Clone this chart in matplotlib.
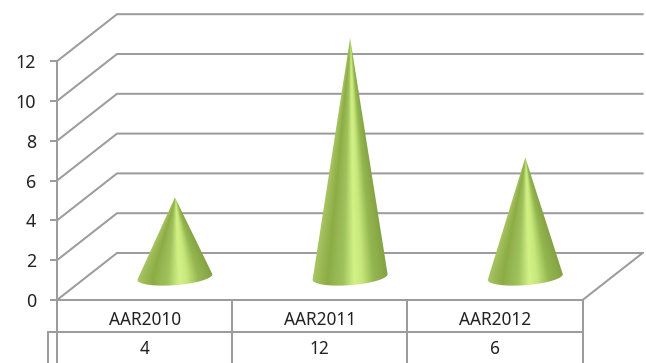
import numpy as np
import matplotlib
matplotlib.use("Agg")
import matplotlib.pyplot as plt
from matplotlib.patches import PathPatch
from matplotlib.path import Path

categories = ["AAR2010", "AAR2011", "AAR2012"]
values = [4, 12, 6]
value_ticks = [0, 2, 4, 6, 8, 10, 12]

plt.rcParams["font.family"] = ["Noto Sans", "DejaVu Sans"]
TEXT = "#222222"
LINE = "#9c9c9c"
LW = 1.45

# Axes fill the canvas: x is in category units, y in value units on the front plane.
UX, UY = 175.2, 19.9
X0, Y0 = 57.0, 300.0
W, H = 646, 363
fig = plt.figure(figsize=(W / 100, H / 100), dpi=100)
ax = fig.add_axes([0, 0, 1, 1])
ax.set_xlim(-X0 / UX, (W - X0) / UX)
ax.set_ylim((Y0 - H) / UY, Y0 / UY)

# Oblique depth of the 3D box, in data units.
DX, DY = 60 / UX, 47 / UY
n = len(categories)

# Walls and floor
for v in value_ticks:
    ax.plot([0, DX, n + DX], [v, v + DY, v + DY], color=LINE, lw=LW, zorder=1,
            solid_joinstyle="miter")
ax.plot([n, n + DX], [0, DY], color=LINE, lw=LW, zorder=1)

# Value axis
for side in ("top", "right", "bottom"):
    ax.spines[side].set_visible(False)
ax.spines["left"].set_position(("data", 0))
ax.spines["left"].set_bounds(0, max(value_ticks))
ax.spines["left"].set_color(LINE)
ax.spines["left"].set_linewidth(LW)
ax.set_yticks(value_ticks)
ax.set_xticks([])
ax.tick_params(axis="y", direction="out", length=5, width=LW, color=LINE,
               labelcolor=TEXT, labelsize=12.8, pad=10)

# Data table under the plot
row1 = -32 / UY
bottom = (Y0 - H) / UY
ax.plot([0, n], [0, 0], color=LINE, lw=LW, zorder=1)
ax.plot([-9 / UX, n], [row1, row1], color=LINE, lw=LW, zorder=1)
ax.plot([-9 / UX, -9 / UX], [row1, bottom], color=LINE, lw=LW, zorder=1)
for i in range(n + 1):
    ax.plot([i, i], [0, bottom], color=LINE, lw=LW, zorder=1)
for i, (c, v) in enumerate(zip(categories, values)):
    ax.text(i + 0.5, -20 / UY, c, ha="center", va="center", fontsize=12.4, color=TEXT)
    ax.text(i + 0.5, -49.5 / UY, str(v), ha="center", va="center", fontsize=12.4, color=TEXT)

# Cones: metallic green shading that converges at the apex
STOPS_U = [-1.0, -0.6, -0.2, 0.1, 0.3, 0.62, 1.0]
STOPS_RGB = np.array([[168, 198, 98], [140, 172, 70], [160, 194, 92],
                      [210, 242, 134], [200, 232, 124], [148, 182, 80],
                      [132, 162, 66]]) / 255
A = 37.5 / UX
B = 8.2 / UY
TILT = 2.8 / UY
for i, v in enumerate(values):
    xc = i + 0.5 + DX * 0.505
    yb = 0.49 * DY
    tip = v + yb

    t = np.linspace(np.pi, 2 * np.pi, 60)
    arc_x = xc + A * np.cos(t)
    arc_y = yb + B * np.sin(t) + TILT * np.cos(t)
    px = np.r_[xc, arc_x, xc]
    py = np.r_[tip, arc_y, tip]
    clip = PathPatch(Path(np.c_[px, py]), transform=ax.transData, fc="none", ec="none")
    ax.add_patch(clip)

    gx = np.linspace(xc - A * 1.02, xc + A * 1.02, 220)
    gy = np.linspace(yb - B * 1.5, tip, 500)
    mx, my = np.meshgrid(gx, gy)
    frac = np.clip((tip - my) / (tip - yb), 0.002, 1)
    u = np.clip((mx - xc) / (A * frac), -1, 1)
    rgb = np.stack([np.interp(u, STOPS_U, STOPS_RGB[:, k]) for k in range(3)], axis=-1)
    im = ax.imshow(rgb, origin="lower", extent=(gx[0], gx[-1], gy[0], gy[-1]),
                   aspect="auto", interpolation="bilinear", zorder=3)
    im.set_clip_path(clip)

ax.set_xlim(-X0 / UX, (W - X0) / UX)
ax.set_ylim((Y0 - H) / UY, Y0 / UY)
fig.savefig("out.png", dpi=100)
